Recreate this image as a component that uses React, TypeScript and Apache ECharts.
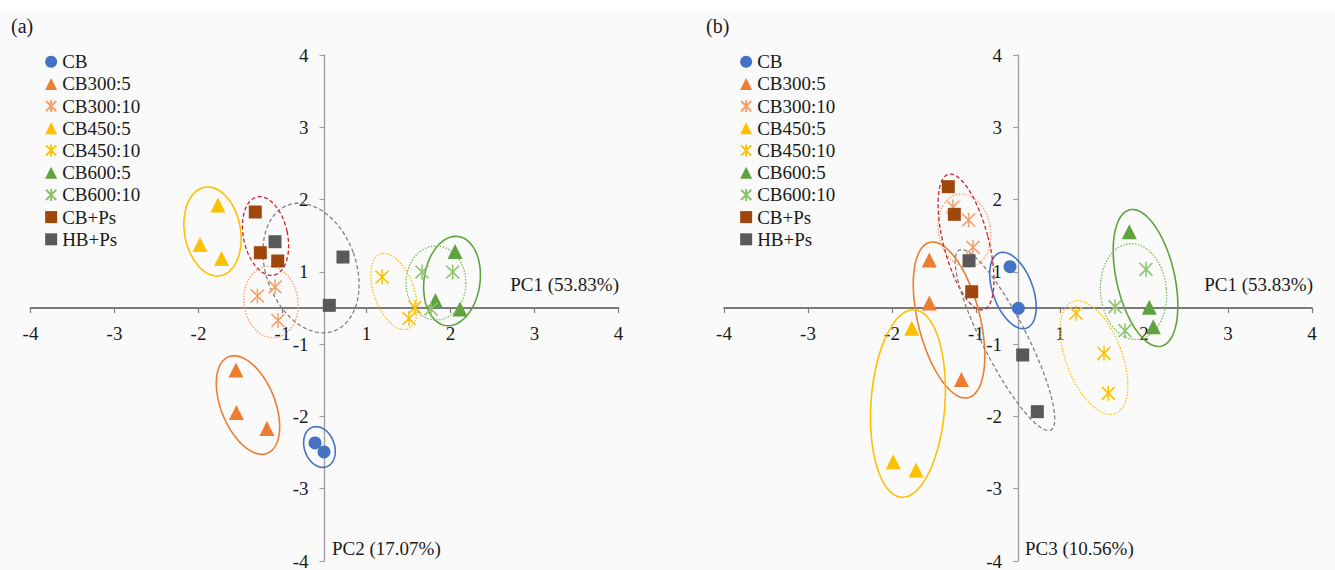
import React, { useEffect, useRef } from "react";
import * as echarts from "echarts";

// Group names (legend order)
const groupNames = ["CB", "CB300:5", "CB300:10", "CB450:5", "CB450:10", "CB600:5", "CB600:10", "CB+Ps", "HB+Ps"];

// Marker colours and ellipse colours per group
const markerColors = ["#4472C4", "#ED7D31", "#F4A06A", "#FFC000", "#FFC000", "#5FA33E", "#8CC46C", "#9E480E", "#595959"];
const ellipseColors = ["#4472C4", "#ED7D31", "#F4A06A", "#FFC000", "#FFC000", "#5FA33E", "#7DB85A", "#C8232C", "#808080"];
const ellipseStyles = ["solid", "solid", "dotted", "solid", "dotted", "solid", "dotted", "dashed", "dashed"];

// Tick label values (the source axes put the labels -4..-1, 1..4 on equally spaced ticks)
const tickLabels = ["-4", "-3", "-2", "-1", "1", "2", "3", "4"];

// Panel (a): PC1 vs PC2 scores (in axis units; tick "1" sits at 0.5, tick "2" at 1.5, ...)
const a_CB = [[-0.113, -1.867], [-0.006, -1.992]];
const a_CB300_5 = [[-1.054, -0.858], [-1.048, -1.445], [-0.685, -1.667]];
const a_CB300_10 = [[-0.798, 0.166], [-0.589, 0.29], [-0.554, -0.173]];
const a_CB450_5 = [[-1.268, 1.425], [-1.482, 0.878], [-1.226, 0.685]];
const a_CB450_10 = [[0.685, 0.429], [1.077, 0.007], [1.006, -0.145]];
const a_CB600_5 = [[1.554, 0.781], [1.321, 0.104], [1.613, -0.014]];
const a_CB600_10 = [[1.161, 0.498], [1.526, 0.498], [1.268, -0.014]];
const a_CBPs = [[-0.824, 1.328], [-0.764, 0.765], [-0.557, 0.65]];
const a_HBPs = [[-0.589, 0.917], [0.22, 0.705], [0.057, 0.037]];

// Panel (b): PC1 vs PC3 scores
const b_CB = [[-0.095, 0.571], [0.004, -0.004]];
const b_CB300_5 = [[-1.056, 0.664], [-1.056, 0.069], [-0.673, -0.989]];
const b_CB300_10 = [[-0.774, 1.397], [-0.589, 1.217], [-0.536, 0.84]];
const b_CB450_5 = [[-1.265, -0.281], [-1.485, -2.126], [-1.214, -2.241]];
const b_CB450_10 = [[0.69, -0.073], [1.024, -0.627], [1.075, -1.18]];
const b_CB600_5 = [[1.325, 1.055], [1.563, 0.01], [1.611, -0.259]];
const b_CB600_10 = [[1.524, 0.535], [1.155, 0.018], [1.274, -0.314]];
const b_CBPs = [[-0.83, 1.678], [-0.758, 1.296], [-0.551, 0.225]];
const b_HBPs = [[-0.583, 0.654], [0.056, -0.65], [0.23, -1.434]];

// Group ellipses: [centre x, centre y, radius x, radius y, tilt in degrees (clockwise), group index]
const ellipsesA = [
  [-0.06, -1.923, 0.179, 0.29, -20, 0],
  [-0.911, -1.342, 0.321, 0.719, -22, 1],
  [-0.637, 0.083, 0.321, 0.498, -8, 2],
  [-1.333, 1.058, 0.333, 0.622, -10, 3],
  [0.827, 0.228, 0.238, 0.553, -20, 4],
  [1.518, 0.373, 0.333, 0.622, 8, 5],
  [1.327, 0.346, 0.357, 0.512, 0, 6],
  [-0.702, 0.996, 0.262, 0.553, -12, 7],
  [-0.161, 0.553, 0.536, 0.927, -20, 8],
];
const ellipsesB = [
  [-0.06, 0.242, 0.238, 0.553, -20, 0],
  [-0.821, -0.166, 0.369, 1.107, -14, 1],
  [-0.637, 1.072, 0.31, 0.512, -10, 2],
  [-1.31, -1.321, 0.44, 1.3, 4, 3],
  [0.905, -0.685, 0.333, 0.83, -21, 4],
  [1.518, 0.415, 0.345, 0.968, -13, 5],
  [1.375, 0.228, 0.393, 0.664, -5, 6],
  [-0.619, 0.913, 0.268, 0.968, -14.5, 7],
  [-0.155, -0.443, 0.262, 1.397, -27, 8],
];

const panelAData = [a_CB, a_CB300_5, a_CB300_10, a_CB450_5, a_CB450_10, a_CB600_5, a_CB600_10, a_CBPs, a_HBPs];
const panelBData = [b_CB, b_CB300_5, b_CB300_10, b_CB450_5, b_CB450_10, b_CB600_5, b_CB600_10, b_CBPs, b_HBPs];

const ASTERISK = "path://M0 1L12 13M12 1L0 13M6 0L6 14";
const symbolFor = ["circle", "triangle", ASTERISK, "triangle", ASTERISK, "triangle", ASTERISK, "rect", "rect"];
const sizeFor: any[] = [13, 15, [13, 15], 15, [13, 15], 15, [13, 15], 13, 13];

const FONT = "'Liberation Serif', 'Times New Roman', serif";

// Grid geometry
const GRID_TOP = 55;
const GRID_H = 506;
const GRID_W = 588;

function tickLabel(v: number): string {
  const idx = Math.round(v + 3.5);
  return tickLabels[Math.min(Math.max(idx, 0), 7)] ?? "";
}

function makeAxisX(gridIndex: number) {
  return {
    type: "value",
    gridIndex,
    min: -3.5,
    max: 3.5,
    interval: 1,
    position: "bottom",
    offset: -GRID_H / 2,
    axisLine: { onZero: false, lineStyle: { color: "#7a7a7a", width: 1.8 } },
    axisTick: { show: true, length: 5, lineStyle: { color: "#7a7a7a", width: 1.2 } },
    axisLabel: {
      margin: 16,
      fontFamily: FONT,
      fontSize: 19,
      color: "#1a1a1a",
      showMinLabel: true,
      showMaxLabel: true,
      hideOverlap: false,
      formatter: (v: number) => tickLabel(v),
    },
    splitLine: { show: false },
  };
}

function makeAxisY(gridIndex: number) {
  return {
    type: "value",
    gridIndex,
    min: -3.5,
    max: 3.5,
    interval: 1,
    position: "left",
    offset: -GRID_W / 2,
    axisLine: { onZero: false, lineStyle: { color: "#a0a0a0", width: 1.4 } },
    axisTick: { show: true, length: 5, lineStyle: { color: "#a0a0a0", width: 1.2 } },
    axisLabel: {
      margin: 16,
      fontFamily: FONT,
      fontSize: 19,
      color: "#1a1a1a",
      showMinLabel: true,
      showMaxLabel: true,
      hideOverlap: false,
      formatter: (v: number) => tickLabel(v),
    },
    splitLine: { show: false },
  };
}

function scatterSeries(data: number[][][], axisIndex: number) {
  return data.map((pts, g) => {
    const isStar = symbolFor[g] === ASTERISK;
    return {
      type: "scatter",
      name: groupNames[g],
      xAxisIndex: axisIndex,
      yAxisIndex: axisIndex,
      data: pts,
      symbol: symbolFor[g],
      symbolSize: sizeFor[g],
      z: 4,
      itemStyle: isStar
        ? { color: "rgba(0,0,0,0)", borderColor: markerColors[g], borderWidth: 1.6, opacity: 1 }
        : { color: markerColors[g], borderWidth: 0, opacity: 1 },
    };
  });
}

function ellipseSeries(rows: number[][], axisIndex: number) {
  return {
    type: "custom",
    name: "ellipses" + axisIndex,
    xAxisIndex: axisIndex,
    yAxisIndex: axisIndex,
    data: rows,
    encode: { x: 0, y: 1 },
    z: 3,
    silent: true,
    renderItem: (_params: any, api: any) => {
      const c = api.coord([api.value(0), api.value(1)]);
      const s = api.size([api.value(2), api.value(3)]);
      const th = (api.value(4) * Math.PI) / 180;
      const g = api.value(5);
      const pts: number[][] = [];
      const N = 96;
      for (let i = 0; i < N; i++) {
        const t = (i / N) * Math.PI * 2;
        const ex = s[0] * Math.cos(t);
        const ey = s[1] * Math.sin(t);
        pts.push([c[0] + ex * Math.cos(th) - ey * Math.sin(th), c[1] + ex * Math.sin(th) + ey * Math.cos(th)]);
      }
      const st = ellipseStyles[g];
      return {
        type: "polygon",
        shape: { points: pts },
        style: {
          fill: "none",
          stroke: ellipseColors[g],
          lineWidth: st === "solid" ? 1.6 : 1.3,
          lineDash: st === "dotted" ? [1.5, 1.5] : st === "dashed" ? [4, 2.5] : null,
        },
      };
    },
  };
}

function legendAt(left: number) {
  return {
    orient: "vertical",
    left,
    top: 50.7,
    padding: 0,
    itemGap: 0.2,
    itemWidth: 12,
    itemHeight: 12,
    selectedMode: false,
    data: groupNames,
    textStyle: { fontFamily: FONT, fontSize: 19, lineHeight: 22, color: "#1a1a1a", padding: [0, 0, 0, 0] },
  };
}

function textEl(text: string, x: number, y: number, align: string, size = 19) {
  return {
    type: "text",
    x,
    y,
    z: 10,
    style: { text, fontFamily: FONT, fontSize: size, fill: "#1a1a1a", align, verticalAlign: "middle" },
  };
}

export default function App() {
  const ref = useRef<HTMLDivElement>(null);
  useEffect(() => {
    if (!ref.current) return;
    const chart = echarts.init(ref.current, undefined, { renderer: "svg" });
    chart.setOption({
      animation: false,
      backgroundColor: "#fafafa",
      grid: [
        { left: 30.5, top: GRID_TOP, width: GRID_W, height: GRID_H, containLabel: false, outerBoundsMode: "none" },
        { left: 724, top: GRID_TOP, width: GRID_W, height: GRID_H, containLabel: false, outerBoundsMode: "none" },
      ],
      xAxis: [makeAxisX(0), makeAxisX(1)],
      yAxis: [makeAxisY(0), makeAxisY(1)],
      legend: [legendAt(45), legendAt(740)],
      graphic: [
        { type: "rect", z: -1, silent: true, shape: { x: 0, y: 0, width: 1335, height: 12 }, style: { fill: "#ffffff" } },
        textEl("(a)", 11, 26, "left", 20),
        textEl("(b)", 706, 26, "left", 20),
        textEl("PC1 (53.83%)", 619, 284, "right"),
        textEl("PC1 (53.83%)", 1313, 284, "right"),
        textEl("PC2 (17.07%)", 332, 548, "left"),
        textEl("PC3 (10.56%)", 1025, 548, "left"),
      ],
      series: [
        ellipseSeries(ellipsesA, 0),
        ellipseSeries(ellipsesB, 1),
        ...scatterSeries(panelAData, 0),
        ...scatterSeries(panelBData, 1),
      ],
    });
    return () => chart.dispose();
  }, []);
  return <div ref={ref} style={{ position: "absolute", left: 0, top: 0, width: 1335, height: 570 }} />;
}
